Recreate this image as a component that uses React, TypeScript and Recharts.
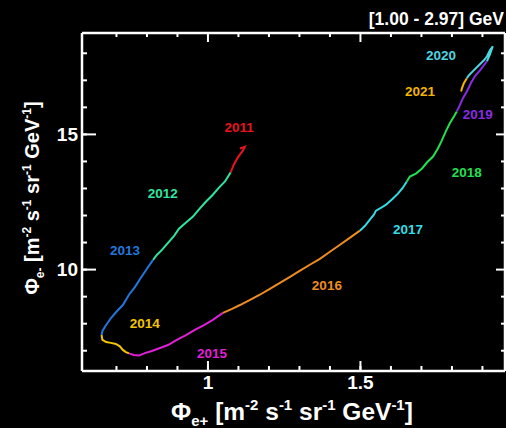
import React from 'react';
import { LineChart, Line, XAxis, YAxis, ReferenceDot } from 'recharts';

const FONT = '"Liberation Sans", Arial, Helvetica, sans-serif';

// ---------- data ----------
const years = ['2011', '2012', '2013', '2014', '2015', '2016', '2017', '2018', '2019', '2020', '2021'];
const colors = ['#e8141c', '#2ee6a0', '#2277dd', '#f2c500', '#e020d8', '#f08c1e', '#33dde6', '#22e050', '#8a2be2', '#4cd6e0', '#f2b400'];

const x2011 = [1.105, 1.121, 1.115, 1.098, 1.085, 1.074];
const y2011 = [14.48, 14.54, 14.41, 14.15, 13.89, 13.59];
const x2012 = [1.074, 1.066, 1.056, 1.036, 1.016, 0.993, 0.970, 0.951, 0.928, 0.905, 0.889, 0.869, 0.849, 0.833, 0.820];
const y2012 = [13.59, 13.44, 13.26, 13.03, 12.77, 12.51, 12.22, 11.96, 11.74, 11.51, 11.25, 10.99, 10.73, 10.55, 10.36];
const x2013 = [0.820, 0.800, 0.780, 0.761, 0.741, 0.721, 0.702, 0.682, 0.666, 0.654, 0.651];
const y2013 = [10.36, 10.03, 9.70, 9.36, 9.07, 8.69, 8.47, 8.21, 7.95, 7.73, 7.58];
const x2014 = [0.651, 0.654, 0.666, 0.682, 0.698, 0.711, 0.721, 0.731, 0.741];
const y2014 = [7.58, 7.40, 7.32, 7.29, 7.25, 7.16, 7.03, 6.95, 6.90];
const x2015 = [0.741, 0.757, 0.774, 0.793, 0.816, 0.843, 0.869, 0.898, 0.928, 0.957, 0.987, 1.016, 1.049];
const y2015 = [6.90, 6.84, 6.82, 6.91, 6.99, 7.10, 7.21, 7.40, 7.58, 7.77, 7.95, 8.14, 8.40];
const x2016 = [1.049, 1.079, 1.105, 1.138, 1.170, 1.203, 1.236, 1.269, 1.302, 1.334, 1.367, 1.400, 1.433, 1.466, 1.498];
const y2016 = [8.40, 8.55, 8.69, 8.88, 9.07, 9.29, 9.51, 9.73, 9.96, 10.18, 10.40, 10.66, 10.92, 11.18, 11.44];
const x2017 = [1.498, 1.515, 1.531, 1.544, 1.551, 1.564, 1.584, 1.603, 1.623, 1.639, 1.652];
const y2017 = [11.44, 11.62, 11.85, 12.03, 12.18, 12.26, 12.40, 12.59, 12.81, 13.03, 13.26];
const x2018 = [1.652, 1.662, 1.682, 1.702, 1.718, 1.738, 1.754, 1.767, 1.780, 1.793, 1.807, 1.816];
const y2018 = [13.26, 13.44, 13.55, 13.74, 13.96, 14.18, 14.48, 14.78, 15.11, 15.41, 15.67, 15.85];
const x2019 = [1.816, 1.826, 1.836, 1.849, 1.862, 1.875, 1.892, 1.905, 1.915];
const y2019 = [15.85, 16.08, 16.34, 16.59, 16.89, 17.15, 17.37, 17.56, 17.71];
const x2020 = [1.915, 1.925, 1.934, 1.925, 1.915, 1.905, 1.885, 1.869, 1.856, 1.849];
const y2020 = [17.71, 17.97, 18.26, 18.12, 17.89, 17.74, 17.52, 17.34, 17.19, 17.08];
const x2021 = [1.849, 1.839, 1.833, 1.830];
const y2021 = [17.08, 16.89, 16.71, 16.59];

const segX = [x2011, x2012, x2013, x2014, x2015, x2016, x2017, x2018, x2019, x2020, x2021];
const segY = [y2011, y2012, y2013, y2014, y2015, y2016, y2017, y2018, y2019, y2020, y2021];

const labelX = [1.102, 0.852, 0.728, 0.793, 1.013, 1.390, 1.656, 1.849, 1.885, 1.764, 1.695];
const labelY = [15.26, 12.81, 10.73, 8.03, 6.91, 9.44, 11.51, 13.59, 15.74, 17.93, 16.59];

const xDomain = [0.587, 1.974];
const yDomain = [6.25, 18.75];
const xTicks = [0.7, 0.8, 0.9, 1.0, 1.1, 1.2, 1.3, 1.4, 1.5, 1.6, 1.7, 1.8, 1.9];
const xMajor = [1, 1.5];
const yTicks = [7, 8, 9, 10, 11, 12, 13, 14, 15, 16, 17, 18];
const yMajor = [10, 15];

const MINOR = 5; // inward minor tick length (px), drawn by the axis itself

const segments = segX.map((xs, i) => xs.map((x, j) => ({ x, y: segY[i][j] })));

const isMajor = (v: number, list: number[]) => list.some((m) => Math.abs(m - v) < 1e-6);

const TICK_COLOR = '#ffffff';

// With tickSize = -MINOR and tickMargin = 0, the tick anchor sits MINOR px inside the frame.
const BottomTick = (p: any) => {
  const v = p.payload.value;
  const major = isMajor(v, xMajor);
  const base = p.y + MINOR; // frame line
  return (
    <g>
      {major ? <path d={`M${p.x},${base}V${base - 10}`} stroke={TICK_COLOR} strokeWidth={2} fill="none" /> : null}
      {major ? (
        <text x={p.x} y={base + 18} textAnchor="middle" fill="#fff" fontSize={19} fontWeight="bold" fontFamily={FONT}>
          {String(Math.round(v * 10) / 10)}
        </text>
      ) : null}
    </g>
  );
};
const LeftTick = (p: any) => {
  const v = p.payload.value;
  const major = isMajor(v, yMajor);
  const base = p.x - MINOR; // frame line
  return (
    <g>
      {major ? <path d={`M${base},${p.y}H${base + 14}`} stroke={TICK_COLOR} strokeWidth={2} fill="none" /> : null}
      {major ? (
        <text x={base - 4} y={p.y} dy="0.36em" textAnchor="end" fill="#fff" fontSize={19} fontWeight="bold" fontFamily={FONT}>
          {String(v)}
        </text>
      ) : null}
    </g>
  );
};
const TopTick = (p: any) => {
  const major = isMajor(p.payload.value, xMajor);
  return (
    <g>
      <path d={`M${p.x},${p.y}V${p.y + (major ? 9 : 4)}`} stroke={TICK_COLOR} strokeWidth={2} fill="none" />
    </g>
  );
};
const RightTick = (p: any) => {
  const major = isMajor(p.payload.value, yMajor);
  return (
    <g>
      <path d={`M${p.x},${p.y}H${p.x - (major ? 9 : 4)}`} stroke={TICK_COLOR} strokeWidth={2} fill="none" />
    </g>
  );
};

const axisLine = { stroke: '#fff', strokeWidth: 2.5 };
const tickLine = { stroke: '#fff', strokeWidth: 2 };

export default function App() {
  return (
    <div style={{ position: 'absolute', left: 0, top: 0, width: 506, height: 428, background: '#000' }}>
      <LineChart width={506} height={428} margin={{ top: 32, right: 0, bottom: 0, left: 0 }}>
        <XAxis xAxisId="b" orientation="bottom" type="number" dataKey="x" domain={xDomain} allowDataOverflow ticks={xTicks}
          interval={0} tickSize={-MINOR} tickMargin={0} tickLine={tickLine} axisLine={axisLine} height={57} tick={BottomTick} />
        <XAxis xAxisId="t" orientation="top" type="number" dataKey="x" domain={xDomain} allowDataOverflow ticks={xTicks}
          interval={0} tickSize={0} tickMargin={0} tickLine={false} axisLine={axisLine} height={1} tick={TopTick} />
        <YAxis yAxisId="l" orientation="left" type="number" domain={yDomain} allowDataOverflow ticks={yTicks}
          interval={0} tickSize={-MINOR} tickMargin={0} tickLine={tickLine} axisLine={axisLine} width={82} tick={LeftTick} />
        <YAxis yAxisId="r" orientation="right" type="number" domain={yDomain} allowDataOverflow ticks={yTicks}
          interval={0} tickSize={0} tickMargin={0} tickLine={false} axisLine={axisLine} width={1} tick={RightTick} />
        {segments.map((seg, i) => (
          <Line key={years[i]} name={years[i]} xAxisId="b" yAxisId="l" data={seg} dataKey="y" type="linear"
            stroke={colors[i]} strokeWidth={2} dot={false} activeDot={false} isAnimationActive={false} />
        ))}
        <Line key="frame-t" xAxisId="t" yAxisId="r" data={[]} dataKey="y" stroke="none" dot={false} activeDot={false} isAnimationActive={false} />
        {years.map((yr, i) => (
          <ReferenceDot key={'lab' + yr} xAxisId="b" yAxisId="l" x={labelX[i]} y={labelY[i]} r={0}
            shape={(p: any) => (
              <text x={p.cx} y={p.cy} dy="0.36em" textAnchor="middle" fill={colors[i]} fontSize={13.5} fontWeight="bold" fontFamily={FONT}>
                {yr}
              </text>
            )} />
        ))}
      </LineChart>
      <svg width={506} height={428} style={{ position: 'absolute', left: 0, top: 0, pointerEvents: 'none' }}>
        <text x={504} y={25} textAnchor="end" fill="#fff" fontSize={17.5} fontWeight="bold" fontFamily={FONT}>
          [1.00 - 2.97] GeV
        </text>
        <text x={292} y={420} textAnchor="middle" fill="#fff" fontSize={24.5} fontWeight="bold" fontFamily={FONT}>
          Φ<tspan fontSize={15} dy={6}>e+</tspan>
          <tspan dy={-6}> [m</tspan>
          <tspan fontSize={15} dy={-10}>-2</tspan>
          <tspan dy={10}> s</tspan>
          <tspan fontSize={15} dy={-10}>-1</tspan>
          <tspan dy={10}> sr</tspan>
          <tspan fontSize={15} dy={-10}>-1</tspan>
          <tspan dy={10}> GeV</tspan>
          <tspan fontSize={15} dy={-10}>-1</tspan>
          <tspan dy={10}>]</tspan>
        </text>
        <text transform="translate(39,198) rotate(-90)" x={0} y={0} textAnchor="middle" fill="#fff" fontSize={20} fontWeight="bold" fontFamily={FONT}>
          Φ<tspan fontSize={12} dy={5}>e-</tspan>
          <tspan dy={-5}> [m</tspan>
          <tspan fontSize={12} dy={-8}>-2</tspan>
          <tspan dy={8}> s</tspan>
          <tspan fontSize={12} dy={-8}>-1</tspan>
          <tspan dy={8}> sr</tspan>
          <tspan fontSize={12} dy={-8}>-1</tspan>
          <tspan dy={8}> GeV</tspan>
          <tspan fontSize={12} dy={-8}>-1</tspan>
          <tspan dy={8}>]</tspan>
        </text>
      </svg>
    </div>
  );
}
